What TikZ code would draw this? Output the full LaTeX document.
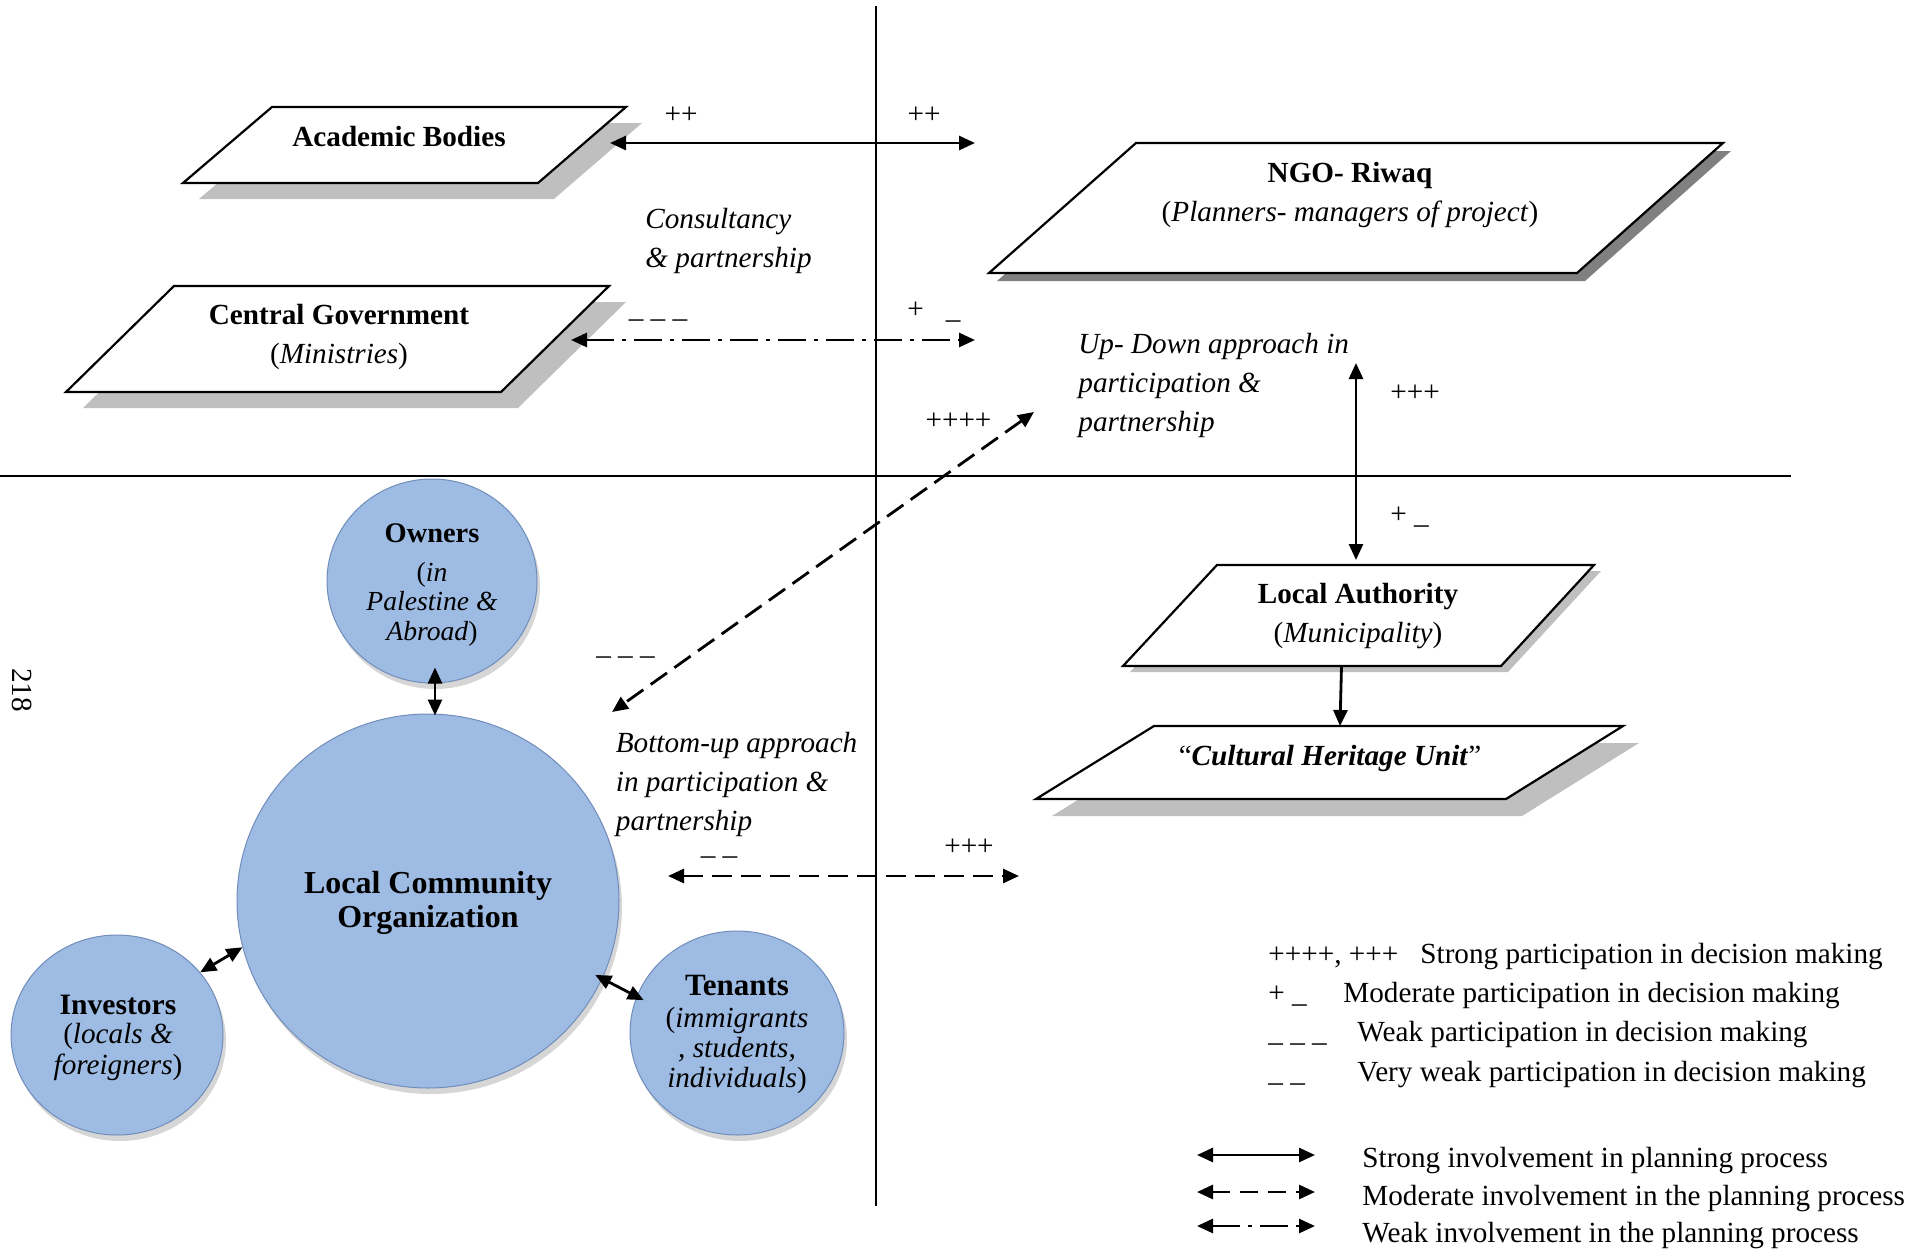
\documentclass[tikz,border=0pt]{standalone}
\usepackage{fontspec}
\setmainfont{Liberation Serif}
\usetikzlibrary{arrows.meta,shapes.geometric,calc}
\definecolor{shlight}{RGB}{191,191,191}
\definecolor{shdark}{RGB}{128,128,128}
\definecolor{bub}{RGB}{158,188,227}
\definecolor{bubmid}{RGB}{140,170,214}
\definecolor{bubrim}{RGB}{112,140,186}
\pgfdeclareradialshading{bubshade}{\pgfpoint{0bp}{0bp}}{color(0bp)=(bub); color(42bp)=(bub); color(48bp)=(bubmid); color(50bp)=(bubrim); color(72bp)=(bubrim)}
\newcommand\myfs[2]{\fontsize{#1}{#2}\selectfont}
\begin{document}
\begin{tikzpicture}[x=0.5pt,y=-0.5pt,
  txt/.style={inner sep=0pt, font=\myfs{14.6}{19.5}},
  para/.style={draw=black, line width=1.1pt, fill=white},
  arr/.style={{Triangle[length=8pt,width=7pt]}-{Triangle[length=8pt,width=7pt]}, line width=1.4pt},
  arrone/.style={-{Triangle[length=8pt,width=7pt]}, line width=1.4pt},
  dasharr/.style={arr, dash pattern=on 10pt off 4.5pt},
  dotarr/.style={arr, dash pattern=on 14pt off 4pt on 2pt off 4pt},
  axis/.style={line width=1pt},
  bubble/.style={ellipse, inner sep=0pt, shading=bubshade, draw=bubrim, line width=0.5pt},
  bubshadow/.style={fill=black, opacity=0.16},
]
\useasboundingbox (0,0) rectangle (1923,1258);

% axes
\draw[axis] (875.6,6) -- (875.6,1206);
\draw[axis] (0,476) -- (1791,476);

% parallelogram shadows and boxes
\fill[shlight, shift={(16,16)}] (272,107) -- (626,107) -- (538,183) -- (183,183) -- cycle;
\draw[para] (272,107) -- (626,107) -- (538,183) -- (183,183) -- cycle;
\fill[shlight, shift={(17,16)}] (174,286) -- (609,286) -- (501,392) -- (66,392) -- cycle;
\draw[para] (174,286) -- (609,286) -- (501,392) -- (66,392) -- cycle;
\fill[shdark, shift={(8,8)}] (1136,143) -- (1723,143) -- (1577,273) -- (989,273) -- cycle;
\draw[para] (1136,143) -- (1723,143) -- (1577,273) -- (989,273) -- cycle;
\fill[shlight, shift={(7,6)}] (1217,565) -- (1594,565) -- (1501,666) -- (1123,666) -- cycle;
\draw[para] (1217,565) -- (1594,565) -- (1501,666) -- (1123,666) -- cycle;
\fill[shlight, shift={(16,17)}] (1154,726) -- (1623,726) -- (1506,799) -- (1036,799) -- cycle;
\draw[para] (1154,726) -- (1623,726) -- (1506,799) -- (1036,799) -- cycle;

% box texts
\node[txt, font=\myfs{14.6}{19.5}\bfseries] (acad) at (399,137) {Academic Bodies};
\node[txt, align=center] (cgov) at (339,336.5) {\textbf{Central Government}\\(\textit{Ministries})};
\node[txt, align=center] (ngo) at (1350,194.5) {\textbf{NGO- Riwaq}\\(\textit{Planners- managers of project})};
\node[txt, align=center] (la) at (1358,616.5) {\textbf{Local Authority}\\(\textit{Municipality})};
\node[txt] (chu) at (1330,758) {“\textbf{\textit{Cultural Heritage Unit}}”};

% bubble shadows
\path[bubshadow] (435,587) ellipse [x radius=105, y radius=102];
\path[bubshadow] (431,907) ellipse [x radius=191, y radius=187];
\path[bubshadow] (120,1041) ellipse [x radius=106, y radius=100];
\path[bubshadow] (740,1039) ellipse [x radius=107, y radius=102];

% bubbles
\node[bubble, minimum width=105pt, minimum height=102pt] (owners) at (432,581) {};
\node[bubble, minimum width=191pt, minimum height=187pt] (lco) at (428,901) {};
\node[bubble, minimum width=106pt, minimum height=100pt] (inv) at (117,1035) {};
\node[bubble, minimum width=107pt, minimum height=102pt] (ten) at (737,1033) {};

% bubble texts
\node[txt, font=\myfs{14.2}{17}\bfseries] (ownT) at (432,533) {Owners};
\node[txt, font=\myfs{13.8}{14.75}, align=center] (ownS) at (432,604) {(\textit{in}\\\textit{Palestine \&}\\\textit{Abroad})};
\node[txt, font=\myfs{16}{16.7}\bfseries, align=center] (lcoT) at (428,903) {Local Community\\Organization};
\node[txt, font=\myfs{14.8}{17}\bfseries] (invT) at (118,1005) {Investors};
\node[txt, font=\myfs{14.6}{15.25}, align=center] (invS) at (118,1052) {(\textit{locals \&}\\\textit{foreigners})};
\node[txt, font=\myfs{15.5}{17}\bfseries] (tenT) at (737,985.5) {Tenants};
\node[txt, font=\myfs{14.6}{15}, align=center] (tenS) at (737,1050) {(\textit{immigrants}\\\textit{, students,}\\\textit{individuals})};

% bubble connectors
\draw[arr] ($(owners.south)+(3,-16)$) -- ($(lco.north)+(7,2)$);
\draw[arr] (inv.37) -- (lco.194);
\draw[arr, shorten <=-4pt, shorten >=-4pt] (lco.-24.4) -- (ten.160.7);

% main connector end points
\coordinate (a1s) at (610,143);
\coordinate (a1e) at (975,143);
\coordinate (a2s) at (571,340);
\coordinate (a2e) at (975,340);
\coordinate (a3s) at (1034,412);
\coordinate (a3e) at (612,712);
\coordinate (a4s) at (1356,363);
\coordinate (a4e) at (1356,560);
\coordinate (a5s) at (1341.5,666);
\coordinate (a5e) at (1340,726);
\coordinate (a6s) at (668,876);
\coordinate (a6e) at (1019,876);

\draw[arr] (a1s) -- (a1e);
\draw[dotarr] (a2s) -- (a2e);
\draw[dasharr] (a3s) -- (a3e);
\draw[arr] (a4s) -- (a4e);
\draw[arrone] (a5s) -- (a5e);
\draw[dasharr] (a6s) -- (a6e);

% connector labels
\node[txt] (pp1) at (681,115) {++};
\node[txt] (pp2) at (924,115) {++};
\node[txt, anchor=base] (w1) at (658,317) {\_ \_ \_};
\node[txt, anchor=base] (pm1) at (934,318) {+\hspace{11pt}\_};
\node[txt] (p4) at (958.5,421) {++++};
\node[txt] (p3a) at (1415,393) {+++};
\node[txt, anchor=base west] (pm2) at (1390,523) {+ \_};
\node[txt, anchor=base] (w2) at (625.5,654) {\_ \_ \_};
\node[txt, anchor=base] (vw1) at (719,854) {\_ \_};
\node[txt] (p3b) at (969,847) {+++};

\node[txt, font=\myfs{14.6}{19.5}\itshape, align=left, anchor=west] (cons) at (645,241) {Consultancy\\\& partnership};
\node[txt, font=\myfs{14.6}{19.5}\itshape, align=left, anchor=west] (updown) at (1078,385) {Up- Down approach in\\participation \&\\partnership};
\node[txt, font=\myfs{14.6}{19.5}\itshape, align=left, anchor=west] (botup) at (615.5,784) {Bottom-up approach\\in participation \&\\partnership};

% page number
\node[txt, rotate=-90] (page) at (22,690) {218};

% legend
\node[txt, anchor=base west] (l1a) at (1268,963) {++++, +++};
\node[txt, anchor=base west] (l1b) at (1420,963) {Strong participation in decision making};
\node[txt, anchor=base west] (l2a) at (1268,1002.5) {+ \_};
\node[txt, anchor=base west] (l2b) at (1343,1002.5) {Moderate participation in decision making};
\node[txt, anchor=base west] (l3a) at (1268,1041.5) {\_ \_ \_};
\node[txt, anchor=base west] (l3b) at (1357,1041.5) {Weak participation in decision making};
\node[txt, anchor=base west] (l4a) at (1268,1081) {\_ \_};
\node[txt, anchor=base west] (l4b) at (1357,1081) {Very weak participation in decision making};

\coordinate (k1s) at (1197,1155);
\coordinate (k1e) at (1315,1155);
\coordinate (k2s) at (1197,1192);
\coordinate (k2e) at (1315,1192);
\coordinate (k3s) at (1197,1226);
\coordinate (k3e) at (1315,1226);
\draw[arr] (k1s) -- (k1e);
\draw[arr, dash pattern=on 9pt off 5pt] (k2s) -- (k2e);
\draw[dotarr] (k3s) -- (k3e);
\node[txt, anchor=base west] (k1t) at (1362,1167) {Strong involvement in planning process};
\node[txt, anchor=base west] (k2t) at (1362,1205) {Moderate involvement in the planning process};
\node[txt, anchor=base west] (k3t) at (1362,1242.5) {Weak involvement in the planning process};
\end{tikzpicture}
\end{document}
